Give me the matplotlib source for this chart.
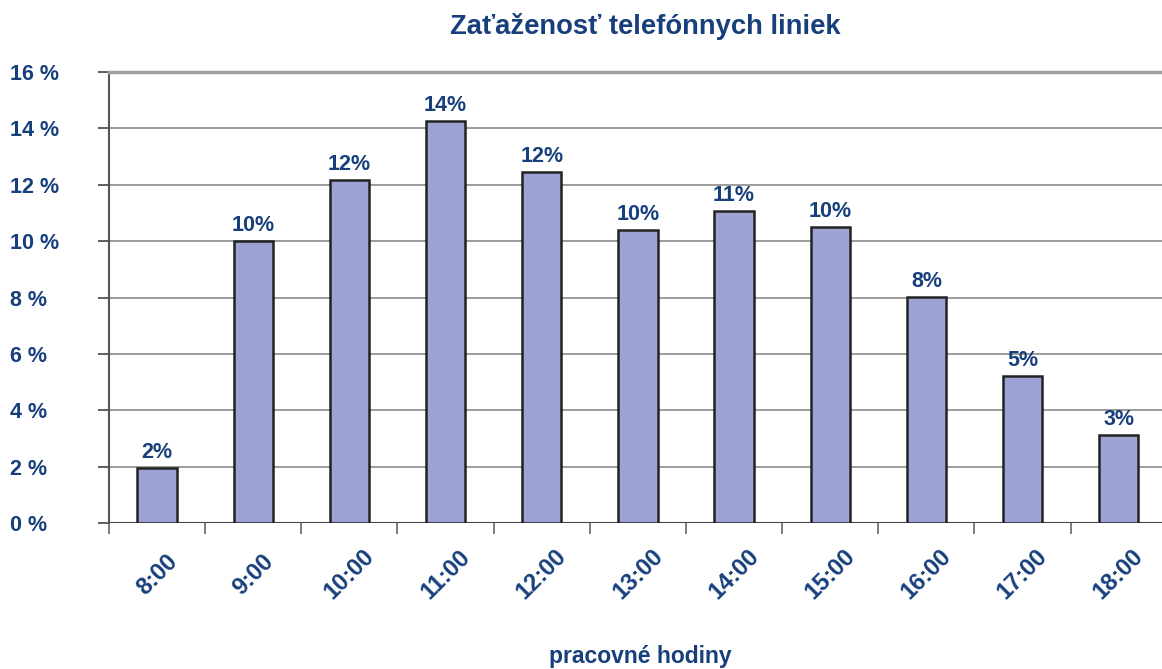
import numpy as np
import matplotlib.pyplot as plt
from matplotlib.ticker import MultipleLocator, FixedLocator

plt.rcParams["font.family"] = ["Liberation Sans", "DejaVu Sans"]

hours = ["8:00", "9:00", "10:00", "11:00", "12:00", "13:00",
         "14:00", "15:00", "16:00", "17:00", "18:00"]
load_pct = [1.95, 10.0, 12.17, 14.26, 12.45, 10.39, 11.07, 10.5, 8.02, 5.21, 3.12]
bar_labels = ["2%", "10%", "12%", "14%", "12%", "10%", "11%", "10%", "8%", "5%", "3%"]

BLUE = "#163f7c"
BAR = "#9ca3d4"

fig = plt.figure(figsize=(11.62, 6.69), dpi=100)
ax = fig.add_axes([109 / 1162, 1 - 523 / 669, 1 - 109 / 1162, (523 - 72) / 669])

x = np.arange(len(hours))
bars = ax.bar(x, load_pct, width=0.41, color=BAR, edgecolor="#222222",
              linewidth=1.8, zorder=3)

for bar, lab in zip(bars, bar_labels):
    ax.text(bar.get_x() + bar.get_width() / 2, bar.get_height() + 0.17, lab,
            ha="center", va="bottom", fontsize=15.5, fontweight="bold",
            color=BLUE)

ax.set_xlim(-0.5, 10.45)
ax.set_ylim(0, 16)
ax.yaxis.set_major_locator(MultipleLocator(2))
ax.set_yticklabels([f"{int(v)} %" for v in ax.get_yticks()])
ax.grid(axis="y", color="#8a8a8a", linewidth=1.2, zorder=0)

# category ticks at the boundaries, labels centred under bars
ax.xaxis.set_major_locator(FixedLocator(np.arange(-0.5, 10.5, 1.0)))
ax.xaxis.set_minor_locator(FixedLocator(x))
ax.set_xticklabels([""] * 11)
ax.set_xticklabels(hours, minor=True, rotation=45, ha="center", va="center",
                   rotation_mode="anchor", fontsize=17, fontweight="bold",
                   color=BLUE)
ax.tick_params(axis="x", which="major", length=8, width=1.2, color="#666666")
ax.tick_params(axis="x", which="minor", length=0, pad=37)
ax.tick_params(axis="y", length=8, width=1.2, color="#444444", pad=63,
               labelsize=15.5, labelcolor=BLUE)
for t in ax.get_yticklabels():
    t.set_fontweight("bold")
    t.set_horizontalalignment("left")
    t.set_verticalalignment("center_baseline")

for side in ["right", "bottom"]:
    ax.spines[side].set_visible(False)
ax.spines["top"].set_color("#a0a0a0")
ax.spines["top"].set_linewidth(2.5)
ax.spines["left"].set_color("#555555")
ax.spines["left"].set_linewidth(1.5)
ax.axhline(0, color="#444444", linewidth=1.5, zorder=2)

fig.text(0.555, 1 - 27 / 669, "Zaťaženosť telefónnych liniek", ha="center",
         va="center", fontsize=19.7, fontweight="bold", color=BLUE)
fig.text(0.551, 1 - 657 / 669, "pracovné hodiny", ha="center", va="center",
         fontsize=16.5, fontweight="bold", color=BLUE)

fig.savefig("out.png", dpi=100)
